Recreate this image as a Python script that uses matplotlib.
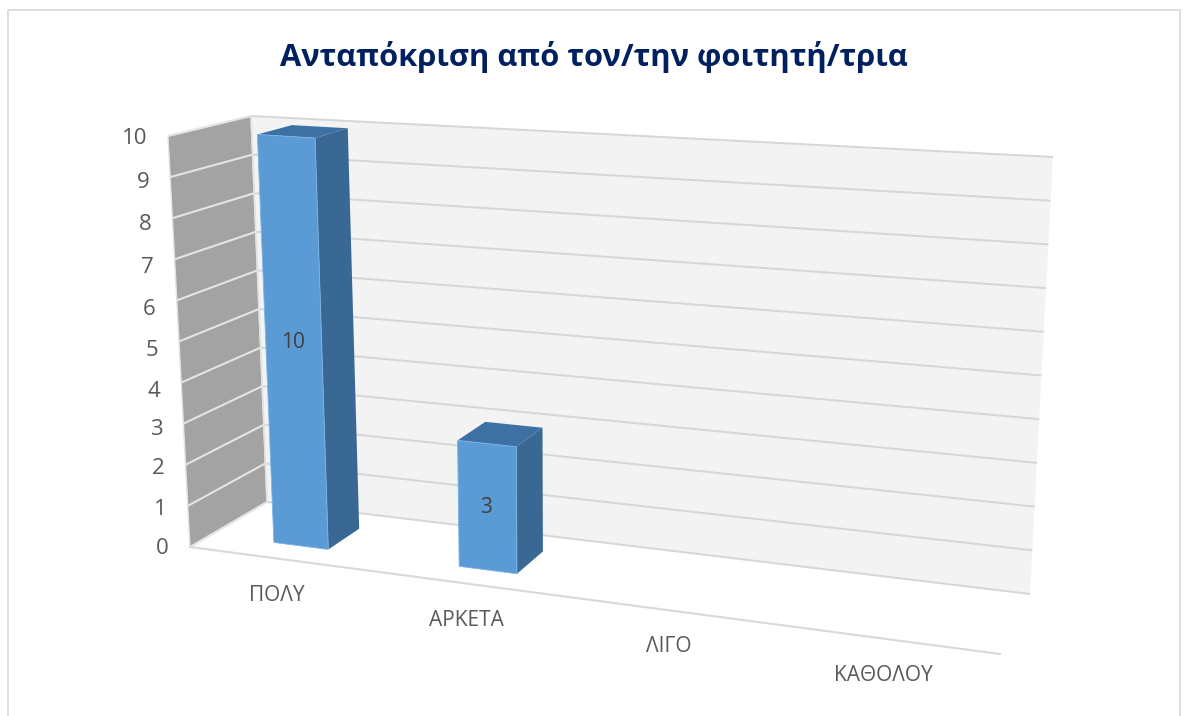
import matplotlib
matplotlib.use('Agg')
import matplotlib.pyplot as plt
from matplotlib.patches import Polygon

title = 'Ανταπόκριση από τον/την φοιτητή/τρια'
categories = ['ΠΟΛΥ', 'ΑΡΚΕΤΑ', 'ΛΙΓΟ', 'ΚΑΘΟΛΟΥ']
values = [10, 3, 0, 0]
ticks = [0, 1, 2, 3, 4, 5, 6, 7, 8, 9, 10]
tick_nudge = [2, 4, 4, 6, 9, 9, 9, 8, 6, 5, 3]

# pixel corners of the 3d box: (side, depth) -> bottom / top
front_left = ((190, 547), (168, 136))
back_left = ((267, 502), (251, 116))
back_right = ((1030, 594), (1053, 157))
front_right = ((1000, 654), (1030, 192))

VMAX = 10
BAR_W = 0.075
Z0, Z1 = 0.28, 0.72


def warp(a):
    # perspective squeeze along the category axis
    return a * 0.885 / (1 - 0.115 * a)


def project(a, v, z, squeeze=True):
    if squeeze:
        a = warp(a)
    t = v / VMAX
    pts = []
    for k in range(2):
        fx = front_left[0][k] * (1 - a) + front_right[0][k] * a
        bx = back_left[0][k] * (1 - a) + back_right[0][k] * a
        ftx = front_left[1][k] * (1 - a) + front_right[1][k] * a
        btx = back_left[1][k] * (1 - a) + back_right[1][k] * a
        lo = fx * (1 - z) + bx * z
        hi = ftx * (1 - z) + btx * z
        pts.append(lo * (1 - t) + hi * t)
    return pts[0], pts[1]


fig = plt.figure(figsize=(11.83, 7.16), dpi=100)
ax = fig.add_axes([0, 0, 1, 1])
ax.set_xlim(0, 1183)
ax.set_ylim(716, 0)
ax.axis('off')

# chart frame, open at the bottom
ax.plot([8.5, 8.5, 1180, 1180], [716, 10, 10, 716], color='#d9d9d9', lw=1.2)

# walls
ax.add_patch(Polygon([project(0, 0, 0), project(0, VMAX, 0), project(0, VMAX, 1), project(0, 0, 1)],
                     fc='#a3a3a3', ec='#e2e2e2', lw=1.0))
ax.add_patch(Polygon([project(0, 0, 1), project(0, VMAX, 1), project(1, VMAX, 1), project(1, 0, 1)],
                     fc='#f3f3f3', ec='none'))

for t, nudge in zip(ticks, tick_nudge):
    x0, y0 = project(0, t, 0)
    x1, y1 = project(0, t, 1)
    x2, y2 = project(1, t, 1)
    ax.plot([x0, x1], [y0, y1], color='#e4e4e4', lw=1.5, solid_capstyle='butt')
    ax.plot([x1, x2], [y1, y2], color='#d6d6d6', lw=1.4, solid_capstyle='butt')
    ax.text(x0 - 21, y0 + nudge, str(t), ha='right', va='center', fontsize=16,
            color='#595959', family='Open Sans')

# floor edges
ax.plot([project(0, 0, 0)[0], project(1, 0, 0)[0]], [project(0, 0, 0)[1], project(1, 0, 0)[1]],
        color='#d9d9d9', lw=1.5)
ax.plot([project(0, 0, 1)[0], project(0, VMAX, 1)[0]], [project(0, 0, 1)[1], project(0, VMAX, 1)[1]],
        color='#e2e2e2', lw=1.2)

# bars
for i, (name, val) in enumerate(zip(categories, values)):
    c = (i + 0.5) / len(categories)
    l, r = c - BAR_W / 2, c + BAR_W / 2
    if val > 0:
        ax.add_patch(Polygon([project(l, val, Z0), project(r, val, Z0), project(r, val, Z1), project(l, val, Z1)],
                             fc='#3d71a3', ec='none', zorder=3))
        ax.add_patch(Polygon([project(r, 0, Z0), project(r, val, Z0), project(r, val, Z1), project(r, 0, Z1)],
                             fc='#3a6894', ec='none', zorder=3))
        ax.add_patch(Polygon([project(l, 0, Z0), project(l, val, Z0), project(r, val, Z0), project(r, 0, Z0)],
                             fc='#5b9bd5', ec='#7db4e6', lw=0.6, zorder=4))
        mx, my = project(c, val / 2, Z0)
        ax.text(mx - 1, my + 1, str(val), ha='center', va='center', fontsize=15,
                color='#404040', family='Open Sans', zorder=5)
    fx, fy = project(c, 0, 0)
    ax.text(fx - 4, fy + 36, name, ha='center', va='center', fontsize=15,
            color='#595959', family='Open Sans')

ax.text(594, 57, title, ha='center', va='center', fontsize=22.2, fontweight='bold',
        color='#002060', family='Open Sans')

fig.savefig('out.png', dpi=100)
